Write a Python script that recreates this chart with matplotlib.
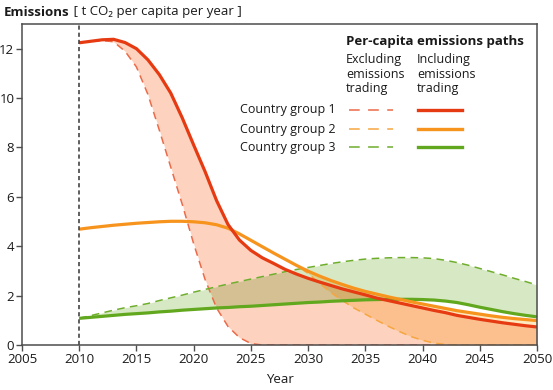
import numpy as np
import matplotlib.pyplot as plt
from itertools import combinations
from matplotlib.colors import to_rgb

plt.rcParams['font.family'] = ['Open Sans', 'DejaVu Sans']

years = np.arange(2010, 2051)

# per-capita emissions [t CO2]
g1_incl = [12.24, 12.30, 12.36, 12.38, 12.25, 12.00, 11.55, 10.95, 10.20, 9.20,
           8.10, 7.02, 5.85, 4.88, 4.25, 3.83, 3.53, 3.30, 3.06, 2.87,
           2.70, 2.55, 2.41, 2.27, 2.15, 2.03, 1.90, 1.80, 1.70, 1.60,
           1.50, 1.40, 1.31, 1.20, 1.12, 1.04, 0.97, 0.90, 0.84, 0.78, 0.73]
g1_excl = [12.24, 12.30, 12.33, 12.28, 11.90, 11.26, 10.15, 8.70, 7.20, 5.70,
           4.10, 2.65, 1.50, 0.75, 0.30, 0.06, 0, 0, 0, 0,
           0, 0, 0, 0, 0, 0, 0, 0, 0, 0,
           0, 0, 0, 0, 0, 0, 0, 0, 0, 0, 0]
g2_incl = [4.69, 4.75, 4.80, 4.85, 4.89, 4.93, 4.96, 4.99, 5.01, 5.01,
           4.99, 4.95, 4.87, 4.73, 4.50, 4.24, 3.98, 3.72, 3.47, 3.22,
           2.99, 2.79, 2.61, 2.45, 2.30, 2.17, 2.06, 1.95, 1.85, 1.75,
           1.66, 1.57, 1.48, 1.39, 1.32, 1.25, 1.18, 1.12, 1.07, 1.03, 0.99]
g2_excl = [4.69, 4.75, 4.80, 4.85, 4.89, 4.93, 4.96, 4.99, 5.01, 5.01,
           4.99, 4.95, 4.87, 4.73, 4.50, 4.24, 3.98, 3.72, 3.47, 3.22,
           2.90, 2.50, 2.12, 1.80, 1.50, 1.25, 1.00, 0.76, 0.54, 0.34,
           0.19, 0.08, 0.02, 0, 0, 0, 0, 0, 0, 0, 0]
g3_incl = [1.08, 1.12, 1.16, 1.20, 1.24, 1.27, 1.30, 1.34, 1.37, 1.41,
           1.44, 1.47, 1.50, 1.52, 1.55, 1.57, 1.60, 1.63, 1.66, 1.69,
           1.72, 1.74, 1.77, 1.79, 1.81, 1.83, 1.84, 1.85, 1.85, 1.85,
           1.84, 1.82, 1.78, 1.72, 1.63, 1.53, 1.44, 1.35, 1.27, 1.20, 1.14]
g3_excl = [1.08, 1.19, 1.30, 1.41, 1.51, 1.59, 1.68, 1.80, 1.91, 2.02,
           2.14, 2.25, 2.36, 2.47, 2.57, 2.67, 2.77, 2.87, 2.97, 3.06,
           3.14, 3.22, 3.30, 3.37, 3.43, 3.48, 3.51, 3.53, 3.54, 3.54,
           3.53, 3.50, 3.43, 3.34, 3.23, 3.10, 2.97, 2.84, 2.70, 2.57, 2.43]

groups = ['Country group 1', 'Country group 2', 'Country group 3']
line_cols = ['#e63b12', '#f7941d', '#62a81e']
dash_cols = ['#ec6a48', '#f6a640', '#6fae2c']
fill_cols = ['#fdd3bf', '#fee8bf', '#d7e8c4']

fig = plt.figure(figsize=(5.53, 3.90), dpi=100)
ax = fig.add_axes([22/553, 1-345/390, 515/553, 321/390])

incl = [np.array(g1_incl), np.array(g2_incl), np.array(g3_incl)]
excl = [np.array(g1_excl), np.array(g2_excl), np.array(g3_excl)]
bands = [(np.minimum(a, b), np.maximum(a, b)) for a, b in zip(incl, excl)]

# shaded bands, overlaps drawn with multiplied colours
for k in (1, 2, 3):
    for combo in combinations(range(3), k):
        lo = np.max([bands[i][0] for i in combo], axis=0)
        hi = np.min([bands[i][1] for i in combo], axis=0)
        col = np.prod([to_rgb(fill_cols[i]) for i in combo], axis=0)
        ax.fill_between(years, lo, hi, where=hi > lo, interpolate=True,
                        color=col, lw=0, zorder=1 + k * 0.1)

for i in range(3):
    ax.plot(years, excl[i], color=dash_cols[i], lw=1.1, dashes=(5, 3.5), zorder=3)
for i in (2, 1, 0):
    ax.plot(years, incl[i], color=line_cols[i], lw=2.3, solid_capstyle='butt',
            solid_joinstyle='round', zorder=4)

ax.axvline(2010, color='#444444', lw=1.2, dashes=(2.5, 1.8), zorder=5)

ax.set_xlim(2005, 2050)
ax.set_ylim(0, 13)
ax.set_xticks(range(2005, 2051, 5))
ax.set_yticks(range(0, 13, 2))
for s in ax.spines.values():
    s.set_color('#4d4d4d')
    s.set_linewidth(1.1)
    s.set_zorder(6)
ax.tick_params(direction='out', length=4, width=1, color='#4d4d4d',
               labelsize=9.5, pad=1.5, labelcolor='#1a1a1a')
ax.set_xlabel('Year', fontsize=9.5, labelpad=5, color='#1a1a1a')

t1 = fig.text(4/553, 1-12/390, 'Emissions', fontsize=9.5, fontweight='bold',
              va='center', color='#1a1a1a')
ax.annotate(' [ t CO\u2082 per capita per year ]', xy=(1, 0.5), xycoords=t1,
            va='center', fontsize=9.5, color='#1a1a1a')

# legend block
def fx(px):
    return px / 553

def fy(py):
    return 1 - py / 390

fig.text(fx(346), fy(42), 'Per-capita emissions paths', fontsize=9.5,
         fontweight='bold', va='center', color='#1a1a1a')
fig.text(fx(346), fy(53), 'Excluding\nemissions\ntrading', fontsize=9,
         va='top', linespacing=1.15, color='#1a1a1a')
fig.text(fx(417), fy(53), 'Including\nemissions\ntrading', fontsize=9,
         va='top', linespacing=1.15, color='#1a1a1a')
for i, (name, py) in enumerate(zip(groups, [110, 129, 147])):
    fig.text(fx(336), fy(py), name, fontsize=9, ha='right', va='center',
             color='#1a1a1a')
    fig.add_artist(plt.Line2D([fx(349), fx(393)], [fy(py), fy(py)],
                              color=dash_cols[i], lw=1.1, dashes=(7, 5.5)))
    fig.add_artist(plt.Line2D([fx(418), fx(462)], [fy(py), fy(py)],
                              color=line_cols[i], lw=2.4))

fig.savefig('out.png', dpi=100)
